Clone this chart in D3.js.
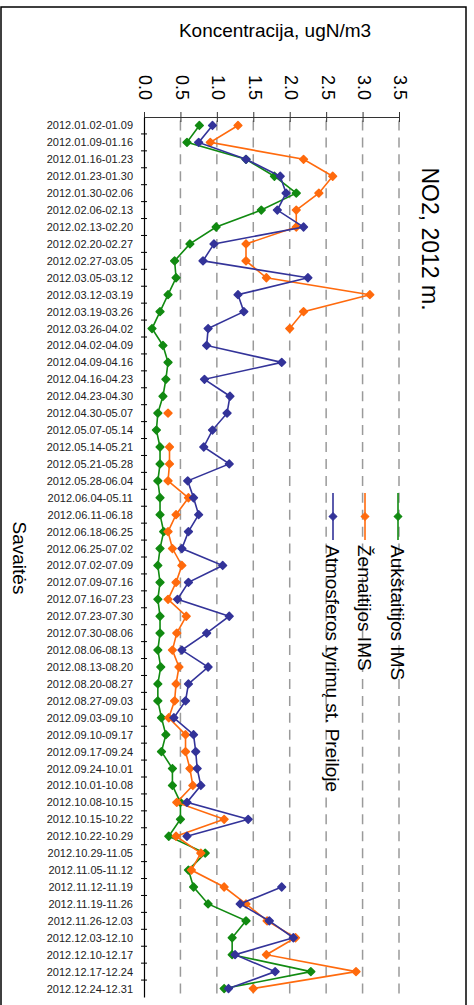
<!DOCTYPE html>
<html>
<head>
<meta charset="utf-8">
<script src="https://cdn.jsdelivr.net/npm/d3@7"></script>
<style>
  body { margin: 0; background: #fff; }
  svg { display: block; font-family: "Liberation Sans", Arial, sans-serif; }
</style>
</head>
<body>
<svg id="chart" width="474" height="1005"></svg>
<script>
// weekly NO2 concentration, 2012
const weeks = [
  '2012.01.02-01.09', '2012.01.09-01.16', '2012.01.16-01.23', '2012.01.23-01.30',
  '2012.01.30-02.06', '2012.02.06-02.13', '2012.02.13-02.20', '2012.02.20-02.27',
  '2012.02.27-03.05', '2012.03.05-03.12', '2012.03.12-03.19', '2012.03.19-03.26',
  '2012.03.26-04.02', '2012.04.02-04.09', '2012.04.09-04.16', '2012.04.16-04.23',
  '2012.04.23-04.30', '2012.04.30-05.07', '2012.05.07-05.14', '2012.05.14-05.21',
  '2012.05.21-05.28', '2012.05.28-06.04', '2012.06.04-05.11', '2012.06.11-06.18',
  '2012.06.18-06.25', '2012.06.25-07.02', '2012.07.02-07.09', '2012.07.09-07.16',
  '2012.07.16-07.23', '2012.07.23-07.30', '2012.07.30-08.06', '2012.08.06-08.13',
  '2012.08.13-08.20', '2012.08.20-08.27', '2012.08.27-09.03', '2012.09.03-09.10',
  '2012.09.10-09.17', '2012.09.17-09.24', '2012.09.24-10.01', '2012.10.01-10.08',
  '2012.10.08-10.15', '2012.10.15-10.22', '2012.10.22-10.29', '2012.10.29-11.05',
  '2012.11.05-11.12', '2012.11.12-11.19', '2012.11.19-11.26', '2012.11.26-12.03',
  '2012.12.03-12.10', '2012.12.10-12.17', '2012.12.17-12.24', '2012.12.24-12.31'
]

const aukstaitija = [
  0.76, 0.59, 1.40, 1.79, 2.09, 1.61, 0.99, 0.63, 0.42, 0.44,
  0.33, 0.22, 0.11, 0.26, 0.33, 0.30, 0.26, 0.19, 0.17, 0.22,
  0.22, 0.19, 0.22, 0.22, 0.27, 0.22, 0.19, 0.22, 0.19, 0.22,
  0.22, 0.19, 0.23, 0.19, 0.19, 0.24, 0.30, 0.24, 0.39, 0.39,
  0.50, 0.50, 0.34, 0.84, 0.61, 0.68, 0.88, 1.40, 1.21, 1.21,
  2.29, 1.10
]

const zemaitija = [
  1.29, 0.91, 2.19, 2.59, 2.40, 2.09, 2.09, 1.40, 1.40, 1.68,
  3.10, 2.19, 2.00, null, null, null, null, 0.33, null, 0.35,
  0.35, 0.33, 0.61, 0.44, 0.33, 0.39, 0.52, 0.44, 0.33, 0.58,
  0.45, 0.39, 0.48, 0.44, 0.42, 0.34, 0.57, 0.57, 0.63, 0.67,
  0.45, 1.10, 0.44, 0.78, 0.65, 1.10, 1.40, 1.69, 2.08, 1.68,
  2.91, 1.50
]

const preila = [
  0.94, 0.75, 1.40, 1.87, 1.95, 1.83, 2.19, 0.96, 0.81, 2.25,
  1.29, 1.37, 0.88, 0.86, 1.89, 0.83, 1.18, 1.14, 0.94, 0.82,
  1.17, 0.60, 0.68, 0.75, 0.61, 0.52, 1.08, 0.61, 0.46, 1.17,
  0.86, 0.52, 0.88, 0.61, 0.57, 0.41, 0.68, 0.71, 0.73, 0.78,
  0.59, 1.43, 0.59, null, null, 1.89, 1.32, 1.72, 2.05, 1.25,
  1.80, 1.16
]

const valueTicks = [0, 0.5, 1, 1.5, 2, 2.5, 3, 3.5]

const series = [
  { name: 'Aukštaitijos IMS', color: '#118a11', data: aukstaitija },
  { name: 'Žemaitijos IMS', color: '#ff6a0d', data: zemaitija },
  { name: 'Atmosferos tyrimų st. Preiloje', color: '#333399', data: preila },
]

const svg = d3.select('#chart')
const plotLeft = 144, plotRight = 399, plotTop = 117, plotBottom = 997

// outer frame
svg.append('rect')
  .attr('x', 1).attr('y', 7).attr('width', 465).attr('height', 1010)
  .attr('fill', 'none').attr('stroke', '#000').attr('stroke-width', 1.5)

let x = d3.scaleLinear().domain([0, 3.5]).range([plotLeft, plotRight])
let y = d3.scalePoint().domain(weeks).range([plotTop, plotBottom]).padding(0.5)
let step = y.step()

// dashed grid
svg.append('g')
  .selectAll('line')
  .data(valueTicks.filter(d => d > 0))
  .join('line')
  .attr('x1', d => x(d)).attr('x2', d => x(d))
  .attr('y1', plotTop + 3.5).attr('y2', plotBottom)
  .attr('stroke', '#9a9a9a').attr('stroke-width', 1.5)
  .attr('stroke-dasharray', `10 ${step - 10}`)

// value axis along the top
let xAxis = svg.append('g')
  .attr('transform', `translate(0,${plotTop})`)
  .call(d3.axisTop(x).tickValues(valueTicks).tickFormat(d3.format('.1f')).tickSizeOuter(0))
xAxis.select('.domain').attr('stroke', '#333').attr('stroke-width', 1.2)
xAxis.selectAll('.tick line').attr('y1', -5).attr('y2', 5).attr('stroke', '#333')
xAxis.selectAll('.tick text')
  .attr('transform', 'rotate(90)')
  .attr('x', -42).attr('y', 0).attr('dy', '0.28em')
  .attr('text-anchor', 'start')
  .attr('font-size', 18).attr('fill', '#000')

// week axis on the left
let yAxis = svg.append('g')
  .attr('transform', `translate(${plotLeft},0)`)
  .call(d3.axisLeft(y).tickSize(0).tickPadding(11))
yAxis.select('.domain').attr('stroke', '#000').attr('stroke-width', 1.2)
yAxis.selectAll('.tick text').attr('font-size', 11).attr('fill', '#222')
yAxis.selectAll('line.bound')
  .data(d3.range(1, weeks.length))
  .join('line')
  .attr('class', 'bound')
  .attr('x1', -3).attr('x2', 3)
  .attr('y1', i => plotTop + i * step).attr('y2', i => plotTop + i * step)
  .attr('stroke', '#000')

// series
let line = d3.line()
  .defined(d => d.v != null)
  .x(d => x(d.v))
  .y(d => y(d.w))
// square turned 45deg reads closer to the Excel diamond than symbolDiamond
let diamond = d3.symbol().type(d3.symbolSquare).size(30)

series.forEach(s => {
  let pts = s.data.map((v, i) => ({ w: weeks[i], v }))
  let g = svg.append('g')
  g.append('path')
    .attr('d', line(pts))
    .attr('fill', 'none').attr('stroke', s.color).attr('stroke-width', 1.6)
  g.selectAll('path.mk')
    .data(pts.filter(d => d.v != null))
    .join('path')
    .attr('class', 'mk')
    .attr('d', diamond)
    .attr('transform', d => `translate(${x(d.v)},${y(d.w)}) rotate(45)`)
    .attr('fill', s.color).attr('stroke', s.color).attr('stroke-width', 1.5)
    .attr('stroke-linejoin', 'round')
})

// legend, rotated like the rest of the chart
let legX = [398, 365, 333]
series.forEach((s, i) => {
  let g = svg.append('g').attr('transform', `translate(${legX[i]},493)`)
  g.append('line').attr('x1', 0).attr('x2', 0).attr('y1', 0).attr('y2', 47)
    .attr('stroke', s.color).attr('stroke-width', 1.6)
  g.append('path').attr('d', diamond).attr('transform', 'translate(0,23.5) rotate(45)')
    .attr('fill', s.color).attr('stroke', s.color).attr('stroke-width', 1)
  g.append('text')
    .attr('transform', 'translate(0,52) rotate(90)')
    .attr('dy', '0.35em')
    .attr('font-size', 19).attr('fill', '#000')
    .text(s.name)
})

// titles
svg.append('text')
  .attr('x', 275).attr('y', 37)
  .attr('text-anchor', 'middle').attr('font-size', 19)
  .text('Koncentracija, ugN/m3')

svg.append('text')
  .attr('transform', 'translate(430,239) rotate(90)')
  .attr('text-anchor', 'middle').attr('dy', '0.35em')
  .attr('font-size', 23)
  .text('NO2, 2012 m.')

svg.append('text')
  .attr('transform', 'translate(20,558) rotate(90)')
  .attr('text-anchor', 'middle').attr('dy', '0.35em')
  .attr('font-size', 19)
  .text('Savaitės')
</script>
</body>
</html>
